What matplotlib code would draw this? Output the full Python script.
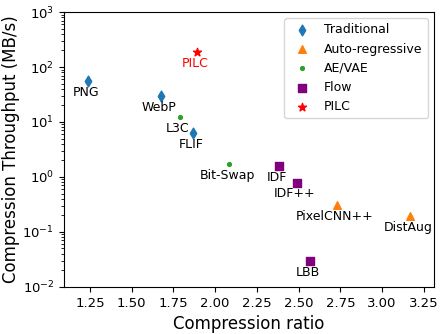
import matplotlib
matplotlib.use("Agg")
import matplotlib.pyplot as plt

# Data
trad_names = ["PNG", "WebP", "FLIF"]
trad_x = [1.24, 1.676, 1.87]
trad_y = [55.6, 29.7, 6.3]

ar_names = ["PixelCNN++", "DistAug"]
ar_x = [2.73, 3.17]
ar_y = [0.31, 0.195]

ae_names = ["L3C", "Bit-Swap"]
ae_x = [1.79, 2.085]
ae_y = [12.3, 1.72]

flow_names = ["IDF", "IDF++", "LBB"]
flow_x = [2.385, 2.49, 2.57]
flow_y = [1.58, 0.78, 0.0297]

pilc_names = ["PILC"]
pilc_x = [1.89]
pilc_y = [187]

xticks = [1.25, 1.50, 1.75, 2.00, 2.25, 2.50, 2.75, 3.00, 3.25]

fig = plt.figure(figsize=(4.44, 3.34), dpi=100)
ax = fig.add_axes([0.144, 0.141, 0.833, 0.823])

ax.scatter(trad_x, trad_y, marker="d", s=30, color="tab:blue", label="Traditional", zorder=3)
ax.scatter(ar_x, ar_y, marker="^", s=30, color="tab:orange", label="Auto-regressive", zorder=3)
ax.scatter(ae_x, ae_y, marker=".", s=30, color="tab:green", label="AE/VAE", zorder=3)
ax.scatter(flow_x, flow_y, marker="s", s=28, color="purple", label="Flow", zorder=3)
ax.scatter(pilc_x, pilc_y, marker="*", s=36, color="red", label="PILC", zorder=3)

def label(names, xs, ys, color="black"):
    for n, x, y in zip(names, xs, ys):
        ax.annotate(n, (x, y), xytext=(-1.5, -8), textcoords="offset points",
                    ha="center", va="center", fontsize=9, color=color)

label(trad_names, trad_x, trad_y)
label(ar_names, ar_x, ar_y)
label(ae_names, ae_x, ae_y)
label(flow_names, flow_x, flow_y)
label(pilc_names, pilc_x, pilc_y, color="red")

ax.set_yscale("log")
ax.set_ylim(1e-2, 1e3)
ax.set_xlim(1.094, 3.31)
ax.set_xticks(xticks)
ax.tick_params(labelsize=9.5)
ax.set_xlabel("Compression ratio", fontsize=12)
ax.set_ylabel("Compression Throughput (MB/s)", fontsize=12, labelpad=1.5)
ax.legend(loc="upper right", fontsize=9)

fig.savefig("out.png", dpi=100)
